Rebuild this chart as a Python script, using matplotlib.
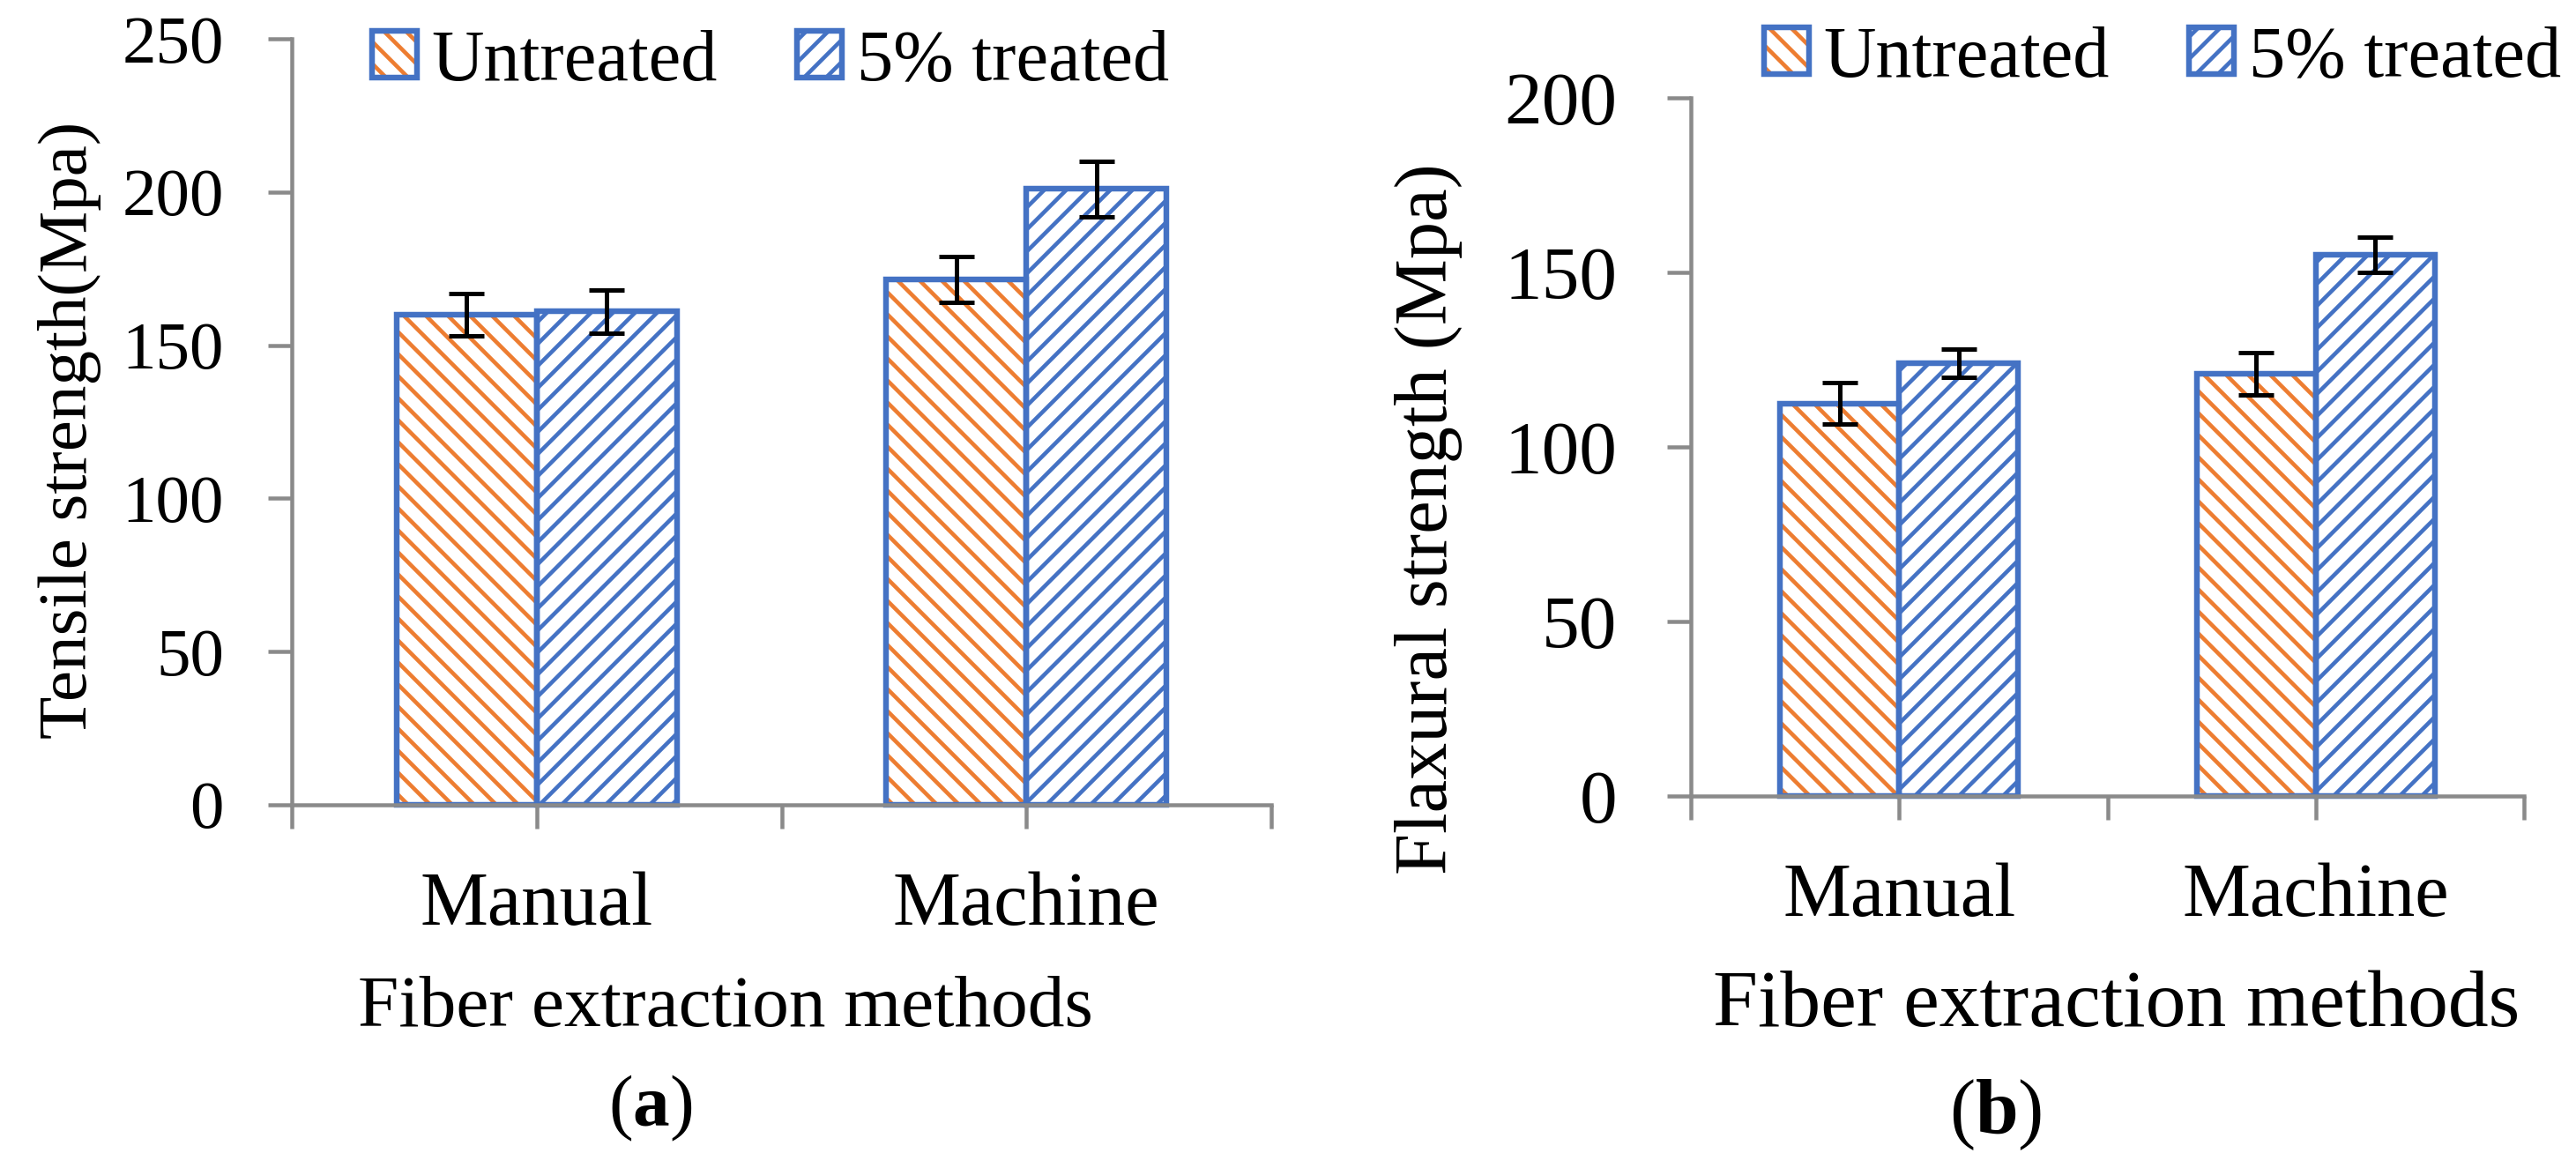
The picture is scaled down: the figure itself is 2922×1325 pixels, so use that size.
import numpy as np
import matplotlib
matplotlib.use("Agg")
import matplotlib.pyplot as plt
from matplotlib.patches import Rectangle
from matplotlib.legend_handler import HandlerTuple

# Data
methods = ['Manual', 'Machine']
series_names = ['Untreated', '5% treated']

tensile_untreated = [160, 171.5]
tensile_untreated_err = [7, 7.5]
tensile_treated = [161, 201]
tensile_treated_err = [7, 9]

flexural_untreated = [112.5, 121]
flexural_untreated_err = [6, 6]
flexural_treated = [124, 155]
flexural_treated_err = [4, 5]

# Style
ORANGE = '#ED7D31'
BLUE = '#4472C4'
AXIS_GREY = '#8a8a8a'
HATCHES = ['\\\\', '//']
DPI = 150
W, H = 2922, 1325

plt.rcParams['font.family'] = ['Liberation Serif', 'DejaVu Serif']
plt.rcParams['mathtext.fontset'] = 'custom'
plt.rcParams['mathtext.rm'] = 'Liberation Serif'
plt.rcParams['mathtext.bf'] = 'Liberation Serif:bold'
plt.rcParams['hatch.linewidth'] = 2.2

fig = plt.figure(figsize=(W / DPI, H / DPI), dpi=DPI)


def px_rect(left, top, right, bottom):
    # axes rectangle given in pixel coordinates of the image (origin top-left)
    return [left / W, (H - bottom) / H, (right - left) / W, (bottom - top) / H]


def draw_panel(ax, untreated, untreated_err, treated, treated_err, ymax,
               ytick_size, ytick_pad):
    x = np.arange(len(methods))
    bw = 0.286
    for vals, errs, off, hatch, col in [(untreated, untreated_err, -bw / 2, HATCHES[0], ORANGE),
                                        (treated, treated_err, bw / 2, HATCHES[1], BLUE)]:
        ax.bar(x + off, vals, bw, color='white', edgecolor=col, hatch=hatch,
               linewidth=0, zorder=1)
        ax.bar(x + off, vals, bw, fill=False, edgecolor=BLUE, linewidth=3.1,
               zorder=1.5, clip_on=False)
        ax.errorbar(x + off, vals, yerr=errs, fmt='none', ecolor='black',
                    elinewidth=2.4, capsize=9.4, capthick=2.4, zorder=3)

    ax.set_xlim(-0.5, len(methods) - 0.5)
    ax.set_ylim(0, ymax)
    ax.set_yticks(np.arange(0, ymax + 1, 50))
    ax.set_xticks(x)
    ax.set_xticklabels(methods)
    ax.set_xticks(np.arange(-0.5, len(methods), 1.0), minor=True)

    for side in ['top', 'right']:
        ax.spines[side].set_visible(False)
    for side in ['left', 'bottom']:
        ax.spines[side].set_color(AXIS_GREY)
        ax.spines[side].set_linewidth(2.16)

    ax.tick_params(axis='both', which='both', direction='out', length=13,
                   width=2.16, color=AXIS_GREY)
    ax.tick_params(axis='y', labelsize=ytick_size, pad=ytick_pad)
    ax.tick_params(axis='x', which='major', labelsize=41.5, pad=23)


def panel_legend(ax, x_px, y_px):
    handles = []
    for hatch, col in [(HATCHES[0], ORANGE), (HATCHES[1], BLUE)]:
        h1 = Rectangle((0, 0), 1, 1, facecolor='white', edgecolor=col,
                       hatch=hatch, linewidth=0)
        h2 = Rectangle((0, 0), 1, 1, fill=False, edgecolor=BLUE, linewidth=3.1)
        handles.append((h1, h2))
    ax.legend(handles, series_names,
              handler_map={tuple: HandlerTuple(ndivide=1, pad=0)},
              loc='center left', bbox_to_anchor=(x_px / W, 1 - y_px / H),
              bbox_transform=fig.transFigure, ncol=2, frameon=False,
              fontsize=39.5, handlelength=0.62, handleheight=0.62,
              handletextpad=0.2, columnspacing=1.1, borderpad=0,
              borderaxespad=0)


# (a) tensile strength
ax1 = fig.add_axes(px_rect(331, 44, 1442, 913))
draw_panel(ax1, tensile_untreated, tensile_untreated_err,
           tensile_treated, tensile_treated_err, 250, 37, 24)
ax1.set_ylabel('Tensile strength(Mpa)', fontsize=38)
ax1.yaxis.set_label_coords(-0.2268, 0.489)
ax1.yaxis.label.set_va('center')
ax1.set_xlabel('Fiber extraction methods', fontsize=40)
ax1.xaxis.set_label_coords(0.443, -0.2888)
ax1.xaxis.label.set_va('baseline')
panel_legend(ax1, 422, 71)
fig.text(738 / W, 1 - 1257 / H, r'($\mathbf{a}$)', fontsize=40,
         ha='center', va='center')

# (b) flexural strength
ax2 = fig.add_axes(px_rect(1918, 111, 2863, 903))
draw_panel(ax2, flexural_untreated, flexural_untreated_err,
           flexural_treated, flexural_treated_err, 200, 41, 27)
ax2.set_ylabel('Flaxural strength (Mpa)', fontsize=40.5)
ax2.yaxis.set_label_coords(-0.3153, 0.397)
ax2.yaxis.label.set_va('center')
ax2.set_xlabel('Fiber extraction methods', fontsize=44)
ax2.xaxis.set_label_coords(0.511, -0.3295)
ax2.xaxis.label.set_va('baseline')
panel_legend(ax2, 2001, 67)
fig.text(2264 / W, 1 - 1265 / H, r'($\mathbf{b}$)', fontsize=42,
         ha='center', va='center')

fig.savefig('out.png', dpi=DPI, facecolor='white')
